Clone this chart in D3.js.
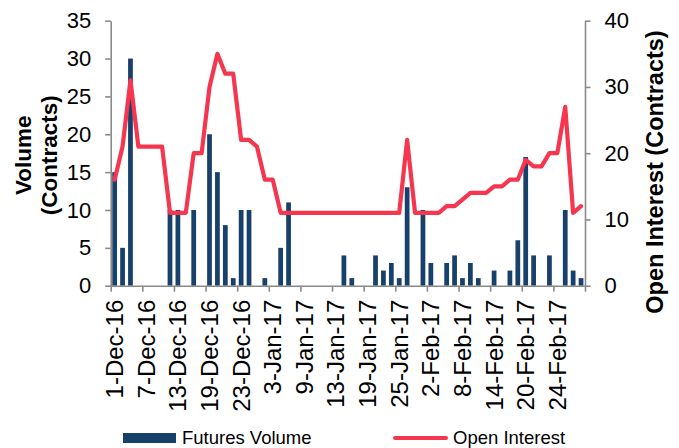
<!DOCTYPE html>
<html>
<head>
<meta charset="utf-8">
<script src="https://cdn.jsdelivr.net/npm/d3@7"></script>
<style>
  body { margin: 0; background: #fff; }
  text { font-family: "Liberation Sans", Arial, sans-serif; }
</style>
</head>
<body>
<div id="wrapper"></div>
<script>
// Data: 60 trading days, 1-Dec-16 to end Feb-17
const tickLabels = ["1-Dec-16", "7-Dec-16", "13-Dec-16", "19-Dec-16", "23-Dec-16",
  "3-Jan-17", "9-Jan-17", "13-Jan-17", "19-Jan-17", "25-Jan-17",
  "2-Feb-17", "8-Feb-17", "14-Feb-17", "20-Feb-17", "24-Feb-17"]

const volume = [15, 5, 30, 0, 0, 0, 0, 10, 10, 0,
  10, 0, 20, 15, 8, 1, 10, 10, 0, 1,
  0, 5, 11, 0, 0, 0, 0, 0, 0, 4,
  1, 0, 0, 4, 2, 3, 1, 13, 0, 10,
  3, 0, 3, 4, 1, 3, 1, 0, 2, 0,
  2, 6, 17, 4, 0, 4, 0, 10, 2, 1]

const openInterest = [16, 21, 31, 21, 21, 21, 21, 11, 11, 11,
  20, 20, 30, 35, 32, 32, 22, 22, 21, 16,
  16, 11, 11, 11, 11, 11, 11, 11, 11, 11,
  11, 11, 11, 11, 11, 11, 11, 22, 11, 11,
  11, 11, 12, 12, 13, 14, 14, 14, 15, 15,
  16, 16, 19, 18, 18, 20, 20, 27, 11, 12]

const volumeTicks = [0, 5, 10, 15, 20, 25, 30, 35]
const oiTicks = [0, 10, 20, 30, 40]

const categories = d3.range(volume.length)

// Dimensions
let dimensions = {
  width: 679,
  height: 448,
  margin: { top: 20.7, right: 94, bottom: 162.3, left: 110.7 },
}
dimensions.boundedWidth = dimensions.width - dimensions.margin.left - dimensions.margin.right
dimensions.boundedHeight = dimensions.height - dimensions.margin.top - dimensions.margin.bottom

const axisColor = "#8a8a8a"
const barColor = "#17406b"
const lineColor = "#f5364f"

const wrapper = d3.select("#wrapper")
  .append("svg")
  .attr("width", dimensions.width)
  .attr("height", dimensions.height)

const bounds = wrapper.append("g")
  .attr("transform", `translate(${dimensions.margin.left}, ${dimensions.margin.top})`)

// Scales
const xScale = d3.scaleBand()
  .domain(categories)
  .range([0, dimensions.boundedWidth])
  .paddingInner(0.4)
  .paddingOuter(0.2)

const yVol = d3.scaleLinear()
  .domain([0, 35])
  .range([dimensions.boundedHeight, 0])

const yOI = d3.scaleLinear()
  .domain([0, 40])
  .range([dimensions.boundedHeight, 0])

const xCenter = i => xScale(i) + xScale.bandwidth() / 2

// Bars
bounds.append("g")
    .attr("fill", barColor)
  .selectAll("rect")
  .data(volume)
  .join("rect")
    .attr("x", (d, i) => xScale(i))
    .attr("y", d => yVol(d))
    .attr("width", xScale.bandwidth())
    .attr("height", d => yVol(0) - yVol(d))

// Axes
const leftAxis = bounds.append("g")
  .call(d3.axisLeft(yVol).tickValues(volumeTicks).tickSize(5.5).tickPadding(14).tickSizeOuter(0))
const rightAxis = bounds.append("g")
  .attr("transform", `translate(${dimensions.boundedWidth}, 0)`)
  .call(d3.axisRight(yOI).tickValues(oiTicks).tickSize(5.5).tickPadding(14).tickSizeOuter(0))

// x axis: tick marks between every 4th category, labels centred on those categories
const boundaryScale = d3.scaleLinear()
  .domain([0, categories.length])
  .range([0, dimensions.boundedWidth])
const xAxis = bounds.append("g")
  .attr("transform", `translate(0, ${dimensions.boundedHeight})`)
  .call(d3.axisBottom(boundaryScale)
    .tickValues(d3.range(0, categories.length + 1, 4))
    .tickSize(6)
    .tickSizeOuter(0)
    .tickFormat(""))

bounds.append("g")
  .selectAll("text")
  .data(tickLabels)
  .join("text")
    .attr("transform", (d, i) => `translate(${xCenter(i * 4) + 8.5}, ${dimensions.boundedHeight + 14}) rotate(-90)`)
    .attr("text-anchor", "end")
    .attr("font-size", 24)
    .attr("fill", "#000")
    .text(d => d)

;[leftAxis, rightAxis, xAxis].forEach(ax => {
  ax.select(".domain").attr("stroke", axisColor).attr("stroke-width", 1.6)
  ax.selectAll(".tick line").attr("stroke", axisColor).attr("stroke-width", 1.6)
  ax.selectAll(".tick text")
    .attr("font-size", 22)
    .attr("fill", "#000")
    .attr("font-family", '"Liberation Sans", Arial, sans-serif')
})

// Open interest line
const lineGenerator = d3.line()
  .x((d, i) => xCenter(i))
  .y(d => yOI(d))

bounds.append("path")
  .datum(openInterest)
  .attr("d", lineGenerator)
  .attr("fill", "none")
  .attr("stroke", lineColor)
  .attr("stroke-width", 4.2)
  .attr("stroke-linejoin", "round")
  .attr("stroke-linecap", "round")

// Axis titles
const midY = dimensions.margin.top + dimensions.boundedHeight / 2
const leftTitle = wrapper.append("text")
  .attr("transform", `translate(31, ${midY + 2}) rotate(-90)`)
  .attr("text-anchor", "middle")
  .attr("font-weight", "bold")
  .attr("font-size", 22.5)
leftTitle.append("tspan").attr("x", 0).attr("dy", 0).text("Volume")
leftTitle.append("tspan").attr("x", 0).attr("dy", 26).text("(Contracts)")

wrapper.append("text")
  .attr("transform", `translate(663, 172) rotate(-90)`)
  .attr("text-anchor", "middle")
  .attr("font-weight", "bold")
  .attr("font-size", 23.5)
  .text("Open Interest (Contracts)")

// Legend
const legend = wrapper.append("g")
legend.append("rect")
  .attr("x", 123).attr("y", 433)
  .attr("width", 53).attr("height", 10)
  .attr("fill", barColor)
legend.append("text")
  .attr("x", 182).attr("y", 443.5)
  .attr("font-size", 18.5)
  .text("Futures Volume")
legend.append("line")
  .attr("x1", 395).attr("x2", 446)
  .attr("y1", 438).attr("y2", 438)
  .attr("stroke", lineColor)
  .attr("stroke-width", 4)
  .attr("stroke-linecap", "round")
legend.append("text")
  .attr("x", 453).attr("y", 443.5)
  .attr("font-size", 18.5)
  .text("Open Interest")
</script>
</body>
</html>
